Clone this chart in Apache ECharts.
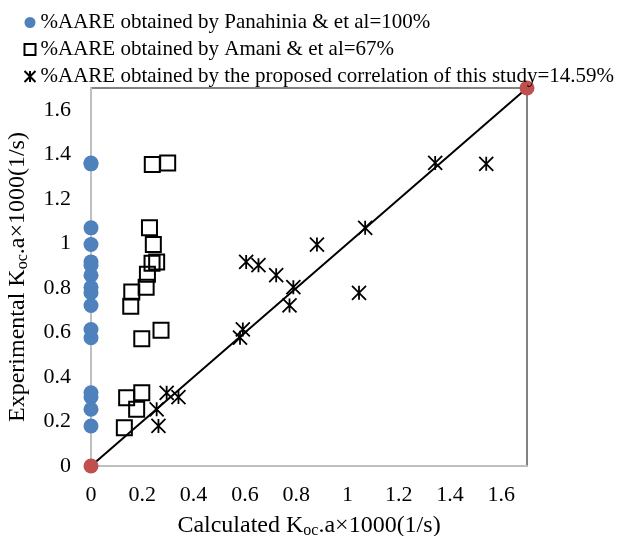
<!DOCTYPE html>
<html>
<head>
<meta charset="utf-8">
<script src="https://cdn.jsdelivr.net/npm/echarts@6/dist/echarts.min.js"></script>
<style>
  html, body { margin: 0; padding: 0; background: #fff; }
  #main { width: 618px; height: 536px; }
</style>
</head>
<body>
<div id="main"></div>
<script>
// experimental values (y) shared by all three correlations
var expValues = [1.363, 1.359, 1.071, 0.996, 0.918, 0.903, 0.858, 0.804, 0.722, 0.779, 0.614, 0.577, 0.329, 0.310, 0.255, 0.180];
// Panahinia & et al: calculated values are all 0
var panahiniaX = [0, 0, 0, 0, 0, 0, 0, 0, 0, 0, 0, 0, 0, 0, 0, 0];
var panahiniaY = expValues;
// Amani & et al
var amaniX = [0.239, 0.299, 0.228, 0.243, 0.256, 0.238, 0.220, 0.215, 0.159, 0.155, 0.198, 0.273, 0.139, 0.198, 0.178, 0.130];
var amaniY = [1.356, 1.363, 1.071, 0.996, 0.918, 0.912, 0.862, 0.804, 0.783, 0.719, 0.572, 0.610, 0.307, 0.329, 0.255, 0.172];
// proposed correlation of this study
var studyX = [1.342, 1.541, 1.069, 0.881, 0.605, 0.653, 0.722, 0.789, 0.774, 1.045, 0.592, 0.581, 0.295, 0.341, 0.256, 0.263];
var studyY = expValues;
// y = x reference line
var diagX = [0, 1.7];
var diagY = [0, 1.7];

var seriesNames = [
    '%AARE obtained by Panahinia & et al=100%',
    '%AARE obtained by Amani & et al=67%',
    '%AARE obtained by the proposed correlation of this study=14.59%'
];

function pairs(xs, ys) {
    var out = [];
    for (var i = 0; i < xs.length; i++) out.push([xs[i], ys[i]]);
    return out;
}

var starPath = 'path://M0,0L10,10M10,0L0,10M5,0L5,10';
var font = 'Liberation Serif';

var chart = echarts.init(document.getElementById('main'), null, { renderer: 'canvas' });

var nameRich = {
    n: { fontFamily: font, fontSize: 24, color: '#000' },
    s: { fontFamily: font, fontSize: 16, color: '#000', padding: [11, 0, 0, 0] }
};

var option = {
    animation: false,
    textStyle: { fontFamily: font },
    grid: {
        left: 91, right: 91, top: 88, bottom: 70,
        outerBoundsMode: 'none', containLabel: false,
        show: true, borderColor: '#595959', borderWidth: 1.5
    },
    legend: {
        orient: 'vertical',
        left: 17, top: 7,
        itemWidth: 11, itemHeight: 11, itemGap: 6,
        textStyle: { fontFamily: font, fontSize: 21, color: '#000' },
        data: [
            { name: seriesNames[0], icon: 'circle' },
            { name: seriesNames[1], icon: 'rect' },
            { name: seriesNames[2], icon: starPath }
        ]
    },
    xAxis: {
        type: 'value', min: 0, max: 1.7, interval: 0.2,
        name: '{n|Calculated K}{s|oc}{n|.a×1000(1/s)}',
        nameLocation: 'middle', nameGap: 46,
        nameTextStyle: { rich: nameRich },
        axisLine: { lineStyle: { color: '#bfbfbf', width: 2 } },
        axisTick: { show: false },
        splitLine: { show: false },
        axisLabel: { showMaxLabel: false, fontFamily: font, fontSize: 22, color: '#000', margin: 18 }
    },
    yAxis: {
        type: 'value', min: 0, max: 1.7, interval: 0.2,
        name: '{n|Experimental K}{s|oc}{n|.a×1000(1/s)}',
        nameLocation: 'middle', nameGap: 60, nameRotate: 90,
        nameTextStyle: { rich: nameRich },
        axisLine: { lineStyle: { color: '#bfbfbf', width: 2 } },
        axisTick: { show: false },
        splitLine: { show: false },
        axisLabel: { showMaxLabel: false, fontFamily: font, fontSize: 22, color: '#000', margin: 20 }
    },
    series: [
        {
            name: 'diag', type: 'line',
            data: pairs(diagX, diagY),
            symbol: 'circle', symbolSize: 15,
            clip: false, z: 1,
            lineStyle: { color: '#000', width: 2 },
            itemStyle: { color: '#c0504d' }
        },
        {
            name: seriesNames[0], type: 'scatter',
            data: pairs(panahiniaX, panahiniaY),
            symbol: 'circle', symbolSize: 15, clip: false,
            itemStyle: { color: '#4f81bd', opacity: 1 }
        },
        {
            name: seriesNames[1], type: 'scatter',
            data: pairs(amaniX, amaniY),
            symbol: 'rect', symbolSize: 15,
            itemStyle: { color: 'rgba(255,255,255,0)', borderColor: '#000', borderWidth: 2, opacity: 1 }
        },
        {
            name: seriesNames[2], type: 'scatter',
            data: pairs(studyX, studyY),
            symbol: starPath, symbolSize: 14,
            itemStyle: { color: 'none', borderColor: '#000', borderWidth: 1.8, opacity: 1 }
        }
    ]
};

chart.setOption(option);
</script>
</body>
</html>
